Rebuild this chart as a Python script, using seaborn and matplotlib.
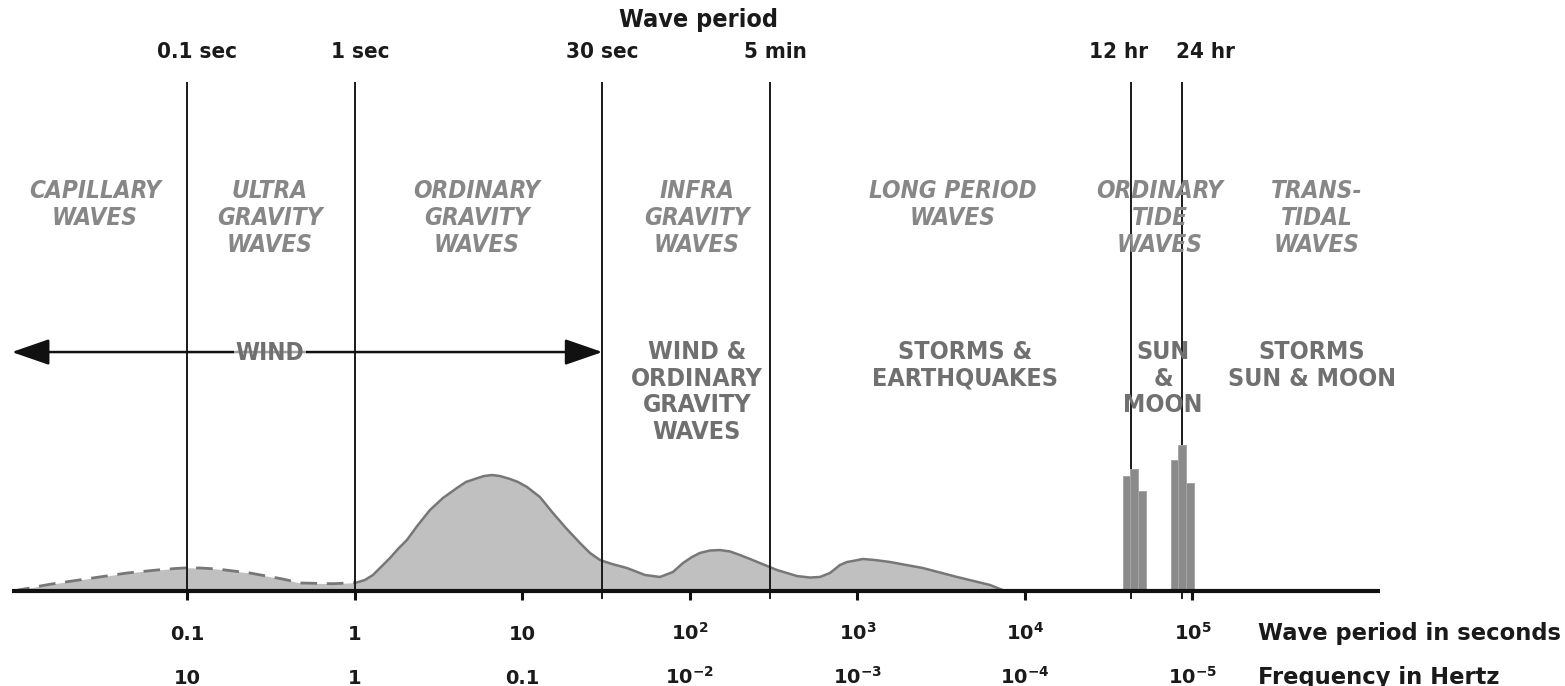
import numpy as np
import matplotlib
matplotlib.use("Agg")
import matplotlib.pyplot as plt
import seaborn as sns

# Capillary / ultra-gravity envelope (period in s, relative energy) - dashed outline
cap_period = [0.0091, 0.0151, 0.0238, 0.0435, 0.0658, 0.085, 0.1, 0.12, 0.15, 0.236,
              0.372, 0.47, 0.74, 1.0]
cap_energy = [0.0, 0.058, 0.10, 0.155, 0.181, 0.194, 0.20, 0.198, 0.19, 0.155,
              0.103, 0.069, 0.063, 0.072]

# Gravity / infra-gravity / long-period envelope - solid outline
grav_period = [1.0, 1.147, 1.281, 1.41, 1.618, 1.806, 2.044, 2.377, 2.804, 3.353,
               4.064, 4.60, 5.205, 5.89, 6.575, 7.339, 8.422, 9.40, 10.64, 12.72,
               15.21, 18.18, 22.04, 25.29, 29.02, 34.21, 42.07, 53.86, 66.22, 79.15,
               90.83, 102.8, 114.7, 131.6, 151.1, 173.3, 198.9, 228.2, 261.8, 330.7,
               435.4, 520.5, 597.2, 685.2, 786.3, 865.7, 940.0, 1078.5, 1272, 1563,
               2460, 3926, 6180, 7603]
grav_energy = [0.069, 0.095, 0.138, 0.198, 0.284, 0.362, 0.440, 0.569, 0.698, 0.802,
               0.888, 0.940, 0.966, 0.991, 1.0, 0.991, 0.966, 0.940, 0.897, 0.810,
               0.672, 0.543, 0.414, 0.328, 0.267, 0.233, 0.198, 0.138, 0.121, 0.164,
               0.241, 0.293, 0.328, 0.349, 0.353, 0.341, 0.310, 0.276, 0.241, 0.181,
               0.129, 0.116, 0.121, 0.155, 0.224, 0.250, 0.259, 0.276, 0.267, 0.250,
               0.198, 0.121, 0.052, 0.0]

# Tidal spectral lines (period in hours)
tide_period_hr = [11.2, 12.4, 13.9, 21.7, 24.0, 26.8]
tide_energy = [0.99, 1.05, 0.86, 1.13, 1.26, 0.93]

# Reference periods marked by vertical lines
mark_period = [0.1, 1, 30, 300, 43200, 86400]
mark_label = ["0.1 sec", "1 sec", "30 sec", "5 min", "12 hr", "24 hr"]

# Axis tick decades and their two label rows
tick_period = [0.1, 1, 10, 1e2, 1e3, 1e4, 1e5]
tick_label_period = ["0.1", "1", "10", r"$10^{2}$", r"$10^{3}$", r"$10^{4}$", r"$10^{5}$"]
tick_label_freq = ["10", "1", "0.1", r"$10^{-2}$", r"$10^{-3}$", r"$10^{-4}$", r"$10^{-5}$"]

# Wave classes and their generating forces
class_names = ["CAPILLARY\nWAVES", "ULTRA\nGRAVITY\nWAVES", "ORDINARY\nGRAVITY\nWAVES",
               "INFRA\nGRAVITY\nWAVES", "LONG PERIOD\nWAVES", "ORDINARY\nTIDE\nWAVES",
               "TRANS-\nTIDAL\nWAVES"]
class_x = [0.028, 0.311, 5.35, 110, 3715, 64000, 553000]
force_names = ["WIND &\nORDINARY\nGRAVITY\nWAVES", "STORMS &\nEARTHQUAKES",
               "SUN\n&\nMOON", "STORMS\nSUN & MOON"]
force_x = [110, 4385, 66700, 517000]

sns.set_theme(style="white")
plt.rcParams["mathtext.default"] = "bf"
plt.rcParams["mathtext.fontset"] = "dejavusans"
plt.rcParams["font.family"] = ["DejaVu Sans"]

fig = plt.figure(figsize=(15.65, 6.86), dpi=100)
ax = fig.add_axes([0, 0, 1, 1])
ax.set_xscale("log")
ax.set_xlim(10 ** -2.119, 10 ** 7.224)
ax.set_ylim(-0.819, 5.095)
ax.axis("off")

FILL = "#c0c0c0"
EDGE = "#777777"
INK = "#1a1a1a"

# spectrum envelopes
ax.fill_between(cap_period, cap_energy, 0, color=FILL, lw=0, zorder=1)
ax.fill_between(grav_period, grav_energy, 0, color=FILL, lw=0, zorder=1)
sns.lineplot(x=cap_period, y=cap_energy, ax=ax, color=EDGE, lw=2.0, zorder=2)
ax.lines[-1].set_dashes([6, 3.5])
sns.lineplot(x=grav_period, y=grav_energy, ax=ax, color=EDGE, lw=1.8, zorder=2)

# vertical reference lines and labels above them
top_y = 4.388
label_dx = [7, 4, 0, 4, -9, 17]
for p, lab, dx in zip(mark_period, mark_label, label_dx):
    ax.plot([p, p], [-0.07, top_y], color=INK, lw=1.4, zorder=3, solid_capstyle="butt")
    ax.annotate(lab, xy=(p, 4.647), xytext=(dx, 0), textcoords="offset points",
                ha="center", va="center", fontsize=16, fontweight="bold",
                fontstretch="condensed", color=INK)

# tidal lines as narrow bars of constant log-width
half = 0.0228
tp = np.array(tide_period_hr) * 3600.0
left = tp * 10 ** -half
right = tp * 10 ** half
ax.bar(left, tide_energy, width=right - left, align="edge", color="#8a8a8a",
       edgecolor="#a6a6a6", linewidth=0.7, zorder=4)

# baseline axis with decade ticks
x_start, x_end = 10 ** -2.048, 10 ** 6.119
ax.plot([x_start, x_end], [0, 0], color="#111111", lw=3.0, zorder=5, solid_capstyle="butt")
for p in tick_period:
    ax.plot([p, p], [0, -0.08], color="#111111", lw=2.2, zorder=5, solid_capstyle="butt")

for p, a, b in zip(tick_period, tick_label_period, tick_label_freq):
    ax.text(p, -0.425, a, ha="center", va="baseline", fontsize=14,
            fontweight="bold", color=INK)
    ax.text(p, -0.80, b, ha="center", va="baseline", fontsize=14,
            fontweight="bold", color=INK)

ax.text(246000, -0.425, "Wave period in seconds", ha="left", va="baseline",
        fontsize=16.3, fontweight="bold", color=INK)
ax.text(246000, -0.80, "Frequency in Hertz", ha="left", va="baseline",
        fontsize=16.3, fontweight="bold", color=INK)
ax.text(112, 4.922, "Wave period", ha="center", va="center", fontsize=18,
        fontweight="bold", fontstretch="condensed", color=INK)

# wave classes
for x, name in zip(class_x, class_names):
    ax.text(x, 3.555, name, ha="center", va="top", fontsize=17.5, fontweight="bold",
            fontstyle="italic", fontstretch="condensed", color="#878787",
            linespacing=1.16, zorder=6)

# generating forces
for x, name in zip(force_x, force_names):
    ax.text(x, 2.166, name, ha="center", va="top", fontsize=18, fontweight="bold",
            fontstretch="condensed", color="#707070", linespacing=1.15, zorder=6)

# wind arrow
ax.annotate("", xy=(x_start, 2.06), xytext=(30, 2.06),
            arrowprops=dict(arrowstyle="<|-|>,head_length=1.3,head_width=0.45",
                            color="#111111", lw=1.8, shrinkA=0, shrinkB=0,
                            mutation_scale=18), zorder=5)
ax.text(0.311, 2.05, "WIND", ha="center", va="center", fontsize=17.5, fontweight="bold",
        fontstretch="condensed", color="#707070", zorder=6,
        bbox=dict(facecolor="white", edgecolor="none", alpha=0.6, pad=1.0))

fig.savefig("out.png", dpi=100, facecolor="white")
